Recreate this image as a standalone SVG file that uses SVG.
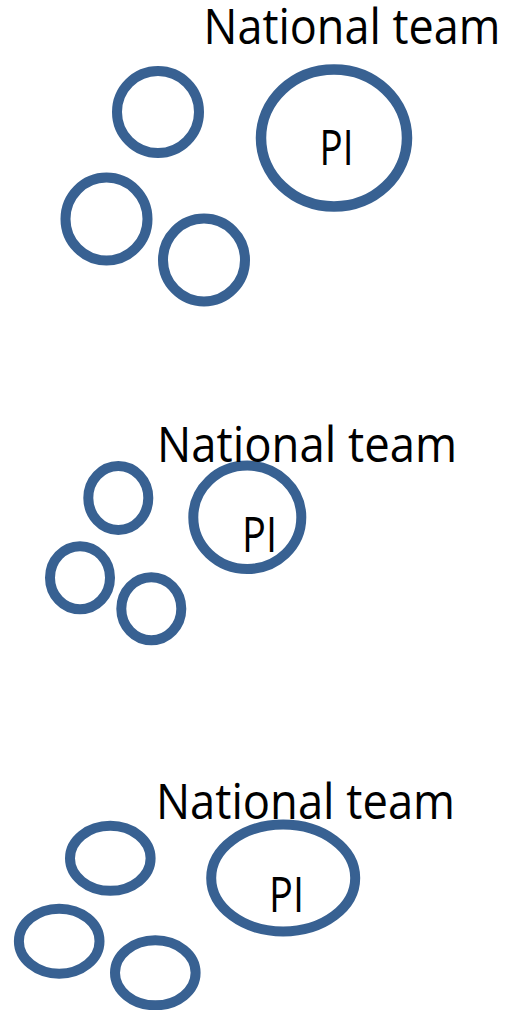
<svg xmlns="http://www.w3.org/2000/svg" width="506" height="1010" viewBox="0 0 506 1010">
<style>
.c{fill:none;stroke:#386192;stroke-width:10}
.t{font-family:"Open Sans","Liberation Sans",sans-serif;font-size:49px;fill:#000}
</style>
<rect width="506" height="1010" fill="#fff"/>
<g id="group1">
  <g id="n1a"><ellipse class="c" cx="158" cy="112" rx="41" ry="41"/></g>
  <g id="n1pi"><ellipse class="c" cx="334" cy="138" rx="73" ry="68.5" style="stroke-width:10.5"/><text class="t" x="319.5" y="164.5" textLength="34" lengthAdjust="spacingAndGlyphs">PI</text></g>
  <g id="n1b"><ellipse class="c" cx="106.5" cy="219" rx="41" ry="41.5"/></g>
  <g id="n1c"><ellipse class="c" cx="204" cy="260" rx="41" ry="41.5"/></g>
  <text id="lbl1" class="t" x="203.5" y="44" textLength="297" lengthAdjust="spacingAndGlyphs">National team</text>
</g>
<g id="group2">
  <g id="n2a"><ellipse class="c" cx="118.3" cy="498" rx="30" ry="32"/></g>
  <g id="n2pi"><ellipse class="c" cx="247.3" cy="517.3" rx="54" ry="51.7"/><text class="t" x="242" y="552" textLength="35" lengthAdjust="spacingAndGlyphs">PI</text></g>
  <g id="n2b"><ellipse class="c" cx="80" cy="577.7" rx="30" ry="31.5"/></g>
  <g id="n2c"><ellipse class="c" cx="151.3" cy="608.7" rx="30" ry="31.5"/></g>
  <text id="lbl2" class="t" x="157" y="462" textLength="300" lengthAdjust="spacingAndGlyphs">National team</text>
</g>
<g id="group3">
  <g id="n3a"><ellipse class="c" cx="110.3" cy="858.3" rx="40.3" ry="32.5"/></g>
  <g id="n3pi"><ellipse class="c" cx="283.2" cy="878" rx="72" ry="53.5"/><text class="t" x="269" y="912" textLength="35" lengthAdjust="spacingAndGlyphs">PI</text></g>
  <g id="n3b"><ellipse class="c" cx="59.2" cy="941.2" rx="40.3" ry="32.5"/></g>
  <g id="n3c"><ellipse class="c" cx="155.3" cy="972.8" rx="40.3" ry="32.5"/></g>
  <text id="lbl3" class="t" x="156" y="818.5" textLength="299" lengthAdjust="spacingAndGlyphs">National team</text>
</g>
<g id="connectors"/>
</svg>
